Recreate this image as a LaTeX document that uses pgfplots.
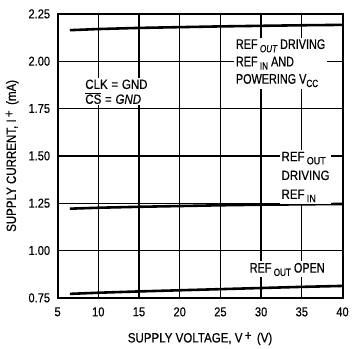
\documentclass[border=0pt]{standalone}
\usepackage{fontspec}
\setmainfont{Liberation Sans}[FakeStretch=0.86, FakeBold=0.4]
\newfontfamily\cond{Liberation Sans}[FakeStretch=0.78, FakeBold=0.4]
\usepackage{pgfplots}
\pgfplotsset{compat=1.18}
\newcommand{\sub}[1]{\raisebox{-0.45ex}{\fontsize{10.5}{11}\selectfont #1}}
\begin{document}
\begin{tikzpicture}
\begin{axis}[
  scale only axis, width=287pt, height=286pt,
  xmin=5, xmax=40, ymin=0.75, ymax=2.25,
  xtick={5,10,...,40}, ytick={0.75,1.00,1.25,1.50,1.75,2.00,2.25},
  yticklabel style={xshift=-4pt, /pgf/number format/.cd, fixed, fixed zerofill, precision=2},
  /pgf/number format/assume math mode=true,
  ticklabel style={font=\fontsize{13}{13}\selectfont},
  xticklabel style={yshift=-6pt},
  axis line style={line width=2pt},
  major tick length=0pt,
  xlabel={SUPPLY VOLTAGE, V\,\raisebox{0.35ex}{+}\, (V)},
  ylabel={SUPPLY CURRENT, I\,\raisebox{0.35ex}{+}\, (mA)},
  label style={font=\fontsize{13.5}{14}\selectfont},
  xlabel style={yshift=-9pt},
  ylabel style={yshift=3pt},
  clip=false,
]
% grid lines
\addplot[black, line width=1.3pt, forget plot] coordinates {(10,0.75) (10,2.25)};
\addplot[black, line width=1.3pt, forget plot] coordinates {(15,0.75) (15,2.25)};
\addplot[black, line width=1.3pt, forget plot] coordinates {(20,0.75) (20,2.25)};
\addplot[black, line width=1.3pt, forget plot] coordinates {(25,0.75) (25,2.25)};
\addplot[black, line width=1.3pt, forget plot] coordinates {(30,0.75) (30,2.25)};
\addplot[black, line width=1.3pt, forget plot] coordinates {(35,0.75) (35,2.25)};
\addplot[black, line width=1.3pt, forget plot] coordinates {(5,1.00) (40,1.00)};
\addplot[black, line width=1.3pt, forget plot] coordinates {(5,1.25) (40,1.25)};
\addplot[black, line width=1.3pt, forget plot] coordinates {(5,1.50) (40,1.50)};
\addplot[black, line width=1.3pt, forget plot] coordinates {(5,1.75) (40,1.75)};
\addplot[black, line width=1.3pt, forget plot] coordinates {(5,2.00) (40,2.00)};
% curves
\addplot[black, line width=2.6pt] coordinates {(6.5,2.164) (10,2.170) (15,2.176) (20,2.180) (25,2.184) (30,2.187) (35,2.190) (40,2.192)};
\addplot[black, line width=2.6pt] coordinates {(6.5,1.221) (10,1.226) (15,1.231) (20,1.235) (25,1.239) (30,1.242) (35,1.244) (40,1.246)};
\addplot[black, line width=2.6pt] coordinates {(6.5,0.771) (10,0.777) (15,0.784) (20,0.790) (25,0.796) (30,0.802) (35,0.808) (40,0.813)};
\node[fill=white, inner sep=1.5pt, align=left, anchor=north west, font=\cond\fontsize{14}{17.5}\selectfont]
  at (axis cs:26.7,2.125) {REF\,\sub{\itshape OUT} DRIVING\\REF\,\sub{IN} AND\\POWERING V\sub{CC}};
\node[fill=white, inner sep=1.5pt, align=left, anchor=north west, font=\fontsize{13.5}{15}\selectfont]
  at (axis cs:8.2,1.912) {CLK\;=\;GND\\$\overline{\mbox{C}\mbox{S}}$\;=\;\textit{GND}};
\node[fill=white, inner sep=1.5pt, align=left, anchor=north west, font=\fontsize{13.5}{19}\selectfont]
  at (axis cs:32.3,1.53) {REF\,\sub{OUT}\\DRIVING\\REF\,\sub{IN}};
\node[fill=white, inner sep=1.5pt, anchor=west, font=\cond\fontsize{14}{15}\selectfont]
  at (axis cs:28.4,0.9) {REF\,\sub{OUT} OPEN};
\end{axis}
\path (current axis.south west) ++(-58pt,-44pt) (current axis.north east) ++(7pt,14pt);
\end{tikzpicture}
\end{document}
